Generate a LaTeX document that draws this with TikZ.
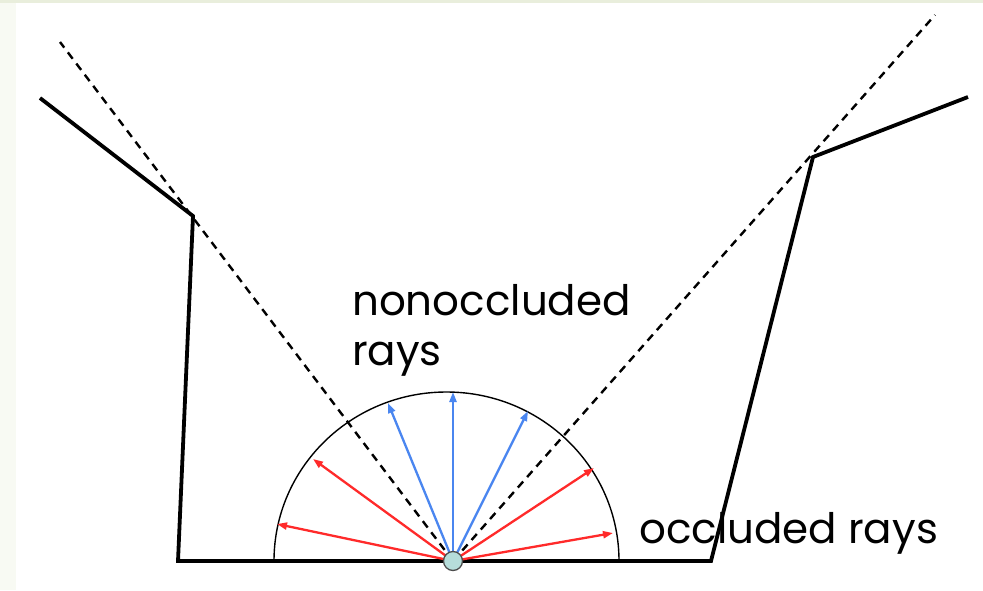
\documentclass[tikz,border=0pt]{standalone}
\usepackage{fontspec}
\setmainfont{Poppins}
\usetikzlibrary{arrows.meta}
\definecolor{rayred}{HTML}{FF2A2A}
\definecolor{rayblue}{HTML}{4A86F0}
\definecolor{topband}{HTML}{E9EEDC}
\definecolor{sideband}{HTML}{F8FAF3}
\definecolor{pointfill}{HTML}{B6DDDA}
\tikzset{
  wall/.style={line width=3.8pt, line join=miter},
  sight/.style={line width=2.4pt, dash pattern=on 8pt off 6pt},
  hemi/.style={line width=1.4pt},
  occ/.style={rayred, line width=2.3pt, -{Triangle[length=10pt,width=7pt]}},
  nonocc/.style={rayblue, line width=2.3pt, -{Triangle[length=10pt,width=7pt]}},
  lbl/.style={font=\fontsize{42}{50}\selectfont, inner sep=0pt, anchor=base west}
}
\begin{document}
\begin{tikzpicture}[x=1pt,y=-1pt]
\useasboundingbox (0,0) rectangle (983,590);
\fill[white] (0,0) rectangle (983,590);
\fill[sideband] (0,0) rectangle (16,590);
\fill[topband] (0,0) rectangle (983,3);
% walls
\coordinate (wl0) at (40,98);
\coordinate (wl1) at (193,216);
\coordinate (wl2) at (178,561);
\coordinate (wr2) at (711,561);
\coordinate (wr1) at (813,157);
\coordinate (wr0) at (968,97);
\coordinate (c) at (453,561);
\draw[wall] (wl0) -- (wl1) -- (wl2) -- (wr2) -- (wr1) -- (wr0);
% hemisphere
\draw[hemi] (274,561) arc[start angle=180, end angle=0, x radius=172.5pt, y radius=169pt];
% sight lines
\coordinate (dl) at (60,42);
\coordinate (dr) at (935,15);
\draw[sight] (c) -- (dl);
\draw[sight] (c) -- (dr);
% rays
\coordinate (r1) at (277,524);
\coordinate (r2) at (313,459);
\coordinate (b1) at (388,403);
\coordinate (b2) at (453,392);
\coordinate (b3) at (528,411);
\coordinate (r3) at (594,468);
\coordinate (r4) at (613,533);
\draw[occ] (c) -- (r1);
\draw[occ] (c) -- (r2);
\draw[nonocc] (c) -- (b1);
\draw[nonocc] (c) -- (b2);
\draw[nonocc] (c) -- (b3);
\draw[occ] (c) -- (r3);
\draw[occ] (c) -- (r4);
\node[circle, draw=black!70, line width=1.3pt, fill=pointfill, minimum size=19pt, inner sep=0pt] (pt) at (c) {};
% labels
\node[lbl] (nl1) at (352,315) {nonoccluded};
\node[lbl] (nl2) at (352,365) {rays};
\node[lbl] (ol) at (639,543) {occluded rays};
\end{tikzpicture}
\end{document}
